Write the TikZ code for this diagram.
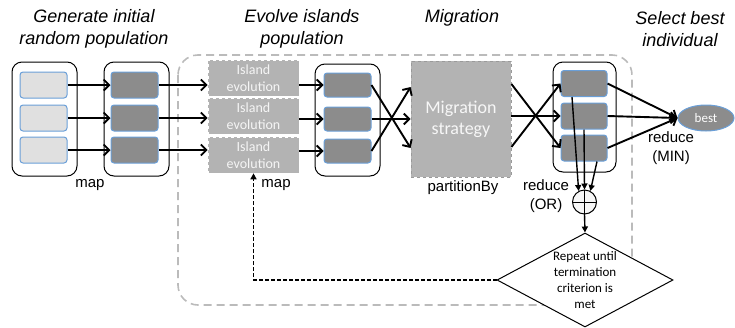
\documentclass[tikz,border=0pt]{standalone}
\usepackage{fontspec}
\setmainfont{Liberation Sans}
\newfontfamily\calfont{Carlito}
\usetikzlibrary{arrows.meta,shapes.geometric}
\definecolor{lightbox}{HTML}{E0E0E0}
\definecolor{darkbox}{HTML}{8C8C8C}
\definecolor{boxblue}{HTML}{6A9FD8}
\definecolor{islandgray}{HTML}{B3B3B3}
\definecolor{framegray}{HTML}{BBBBBB}
\definecolor{migborder}{HTML}{9A9A9A}
\begin{document}
\begin{tikzpicture}[x=1pt,y=-1pt,
  cont/.style={draw=black, line width=1pt, rounded corners=10pt, minimum width=65pt, minimum height=114pt, inner sep=0pt},
  lbox/.style={draw=boxblue, fill=lightbox, line width=1pt, rounded corners=3pt, minimum width=47pt, minimum height=26pt, inner sep=0pt},
  dbox/.style={lbox, fill=darkbox},
  isl/.style={draw=white, dashed, line width=0.6pt, fill=islandgray, minimum width=91pt, minimum height=36pt, inner sep=0pt, text=white!92!gray, font=\calfont\fontsize{14}{17}\selectfont, align=center},
  title/.style={font=\itshape\fontsize{18}{22}\selectfont, align=center},
  lbl/.style={font=\fontsize{15}{19}\selectfont, align=center},
  arr/.style={line width=1.9pt, -{Straight Barb[length=5.5pt,width=11pt]}},
  thinarr/.style={line width=1.4pt, -{Triangle[length=6pt,width=6pt]}},
]
\useasboundingbox (0,0) rectangle (735,327);

% big dashed frame
\draw[framegray, line width=1.6pt, dash pattern=on 8pt off 5pt, rounded corners=20pt] (178,55) rectangle (632,305);

% titles
\node[title] (t1) at (94,29) {Generate initial\\random population};
\node[title] (t2) at (302,29) {Evolve islands\\population};
\node[title] (t3) at (462,18) {Migration};
\node[title] (t4) at (680,29) {Select best\\individual};

% container 1
\node[cont] (c1) at (44.5,119) {};
\node[lbox] (l1) at (43.5,85) {};
\node[lbox] (l2) at (43.5,118) {};
\node[lbox] (l3) at (43.5,150) {};
% container 2
\node[cont] (c2) at (136.5,119) {};
\node[dbox] (d1) at (134.5,85) {};
\node[dbox] (d2) at (134.5,118) {};
\node[dbox] (d3) at (134.5,150) {};
\node[lbl] (map1) at (90,185) {map};

% islands
\node[isl] (isl1) at (253.5,78) {Island\\evolution};
\node[isl] (isl2) at (253.5,116) {Island\\evolution};
\node[isl] (isl3) at (253.5,155) {Island\\evolution};
\node[lbl] (map2) at (276,185) {map};

% container 3
\node[cont, minimum height=112pt] (c3) at (347.5,120) {};
\node[dbox, minimum height=24pt] (b31) at (347.5,85) {};
\node[dbox, minimum height=24pt] (b32) at (347.5,119) {};
\node[dbox, minimum height=24pt] (b33) at (347.5,151) {};

% migration
\node[draw=migborder, dashed, line width=0.8pt, fill=islandgray, minimum width=100pt, minimum height=116pt, inner sep=0pt,
      text=white!94!gray, font=\calfont\fontsize{18}{21}\selectfont, align=center] (mig) at (461,119) {Migration\\strategy};
\node[lbl] (part) at (463,188) {partitionBy};

% container 4
\node[cont, minimum width=63pt, minimum height=110pt] (c4) at (584.5,117) {};
\node[dbox, minimum width=46pt] (b41) at (584,83.5) {};
\node[dbox, minimum width=46pt] (b42) at (584,116) {};
\node[dbox, minimum width=46pt] (b43) at (584,148) {};

% best
\node[ellipse, draw=boxblue, line width=1pt, fill=darkbox, minimum width=56pt, minimum height=26pt, inner sep=0pt,
      text=white, font=\calfont\fontsize{13}{15}\selectfont] (best) at (706,118) {best};
\node[lbl] (rmin) at (671,148) {reduce\\(MIN)};

% OR circle
\node[circle, draw=black, line width=1pt, fill=white!94!gray, minimum size=24pt, inner sep=0pt] (orc) at (584.5,202) {};
\draw[line width=0.8pt] (orc.north) -- (orc.south) (orc.west) -- (orc.east);
\node[lbl] (ror) at (546,196) {reduce\\(OR)};

% diamond
\node[diamond, draw=black, line width=1pt, fill=white, minimum width=176pt, minimum height=94pt, inner sep=0pt, aspect=1.87] (dia) at (585,280) {};
\node[font=\calfont\fontsize{13}{15.7}\selectfont, align=center] (diat) at (dia.center) {Repeat until\\termination\\criterion is\\met};

% arrows c1 -> c2
\draw[arr] (l1.east) -- (d1.west);
\draw[arr] (l2.east) -- (d2.west);
\draw[arr] (l3.east) -- (d3.west);
% c2 -> islands
\draw[arr] (d1.east) -- (d1.east -| isl1.west);
\draw[arr] (d2.east) -- (d2.east -| isl2.west);
\draw[arr] (d3.east) -- (d3.east -| isl3.west);
% islands -> c3
\draw[arr] (isl1.east |- b31) -- (b31.west);
\draw[arr] (isl2.east |- b32) -- (b32.west);
\draw[arr] (isl3.east |- b33) -- (b33.west);
% c3 -> migration
\draw[arr] (b31.east) -- ([yshift=-29pt]mig.west);
\draw[arr] (b32.east) -- (mig.west |- b32);
\draw[arr] (b33.east) -- ([yshift=32pt]mig.west);
% migration -> c4
\draw[arr] ([yshift=35pt]mig.east) -- (b43.west);
\draw[arr] (mig.east |- b42) -- (b42.west);
\draw[arr] ([yshift=-28pt]mig.east) -- (b41.west);
% c4 -> best
\draw[arr] (b41.east) -- (best.west);
\draw[arr] (b42.east) -- (best.west);
\draw[arr] (b43.east) -- (best.west);
% c4 -> OR
\draw[thinarr] ([xshift=-12pt]b41.south) -- (orc.118);
\draw[thinarr] (b42.south) -- (orc.north);
\draw[thinarr] ([xshift=13pt]b43.south) -- (orc.62);
% OR -> diamond
\draw[thinarr] (orc.south) -- (dia.north);
% feedback
\draw[thinarr, line width=1.5pt, dash pattern=on 4pt off 2pt] (dia.west) -- (dia.west -| isl3.south) -- (isl3.south);
\end{tikzpicture}
\end{document}
